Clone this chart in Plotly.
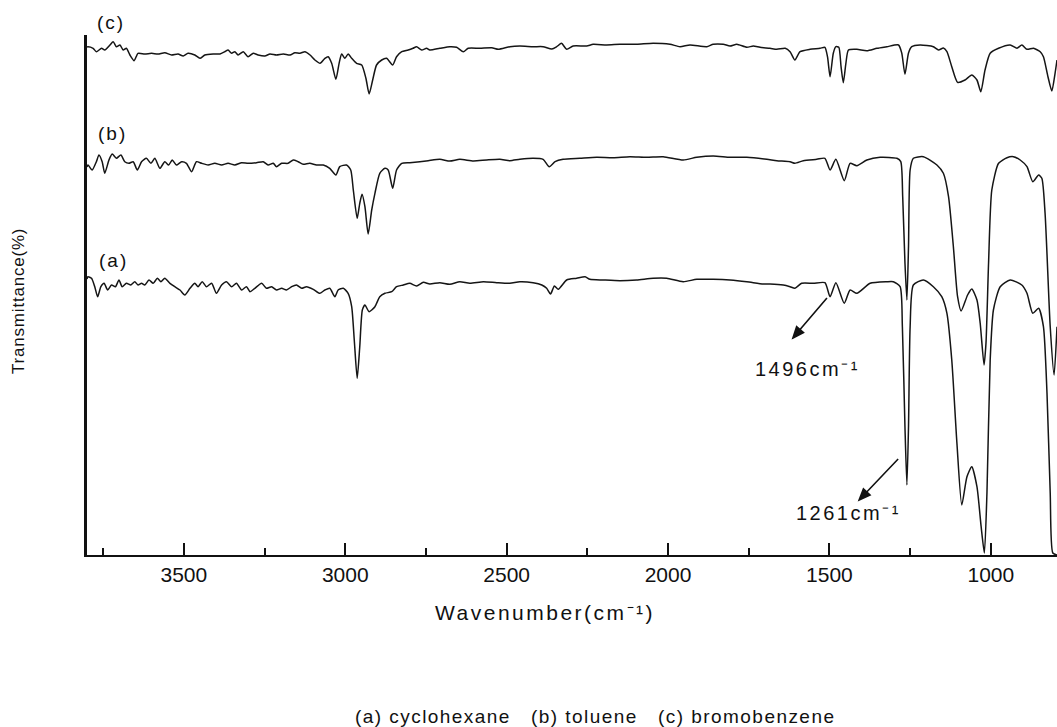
import plotly.graph_objects as go

# ---------------- data ----------------
wn_c = [3800,3797,3781,3771,3755,3745,3729,3719,3709,3698,3688,3678,3667,3654,3642,3621,3600,3580,3559,3538,
        3518,3502,3487,3466,3450,3435,3409,3388,3373,3363,3352,3342,3332,3316,3301,3285,3270,3249,3233,3213,
        3192,3171,3156,3140,3125,3109,3094,3078,3063,3053,3042,3029,3019,3011,3001,2991,2980,2965,2949,2936,
        2926,2915,2903,2887,2872,2853,2841,2825,2805,2790,2779,2763,2748,2738,2707,2676,2655,2634,2619,2583,
        2546,2526,2490,2459,2418,2387,2360,2345,2330,2314,2294,2252,2232,2190,2149,2097,2046,1994,1963,1932,
        1880,1860,1829,1808,1787,1756,1736,1715,1684,1663,1637,1622,1607,1591,1560,1529,1514,1506,1498,1488,
        1480,1471,1464,1457,1449,1441,1415,1384,1353,1322,1286,1276,1266,1255,1245,1219,1178,1162,1147,1136,
        1121,1103,1080,1059,1043,1031,1018,1002,976,940,919,904,888,868,847,837,823,811,801,795]
t_c = [508,508.3,506.7,503.3,506.7,505,510,513.3,508.3,510,505,506.7,500,494.3,501.7,501,501.7,501,502.3,500,
       501,499,501.7,500,496.7,500,501,501,503.3,505,501.7,503.3,500,503.3,498.3,501.7,500,499,501,500,
       501,500,502.3,501.7,503.3,500,495,491.7,496.7,498.3,491.7,475.7,491.7,501,496.7,501,496.7,491.7,490,476.7,
       461,475,490,495,496.7,490,498.3,503.3,505,506.7,508.3,505,506.7,505,506.7,508.3,507.7,503.3,506.7,506.7,
       507.3,505.7,508.3,509,508.3,508.3,506,508.3,511.7,505.7,509,509,510.7,510,510.7,510.7,511.7,510.7,508.3,510,
       508.3,510.7,510.7,509,510.7,507.7,509,507.7,506.7,505.7,506.7,503.3,495,503.3,505.7,506.7,507.7,498.3,478.3,501.7,
       508.3,507.7,488.3,472.3,491.7,505,505.7,504.3,506.7,508.3,510,502,480.7,502,508.3,510,508.3,505,507,503.3,
       488.3,472.7,475,480,475,463.3,485,501.7,506.7,510,506.7,510,505.7,506.7,503.3,498.3,478.3,464,481.7,495]

wn_b = [3800,3797,3784,3771,3763,3753,3745,3732,3722,3709,3695,3683,3670,3657,3644,3631,3616,3602,3590,3574,
        3559,3547,3536,3523,3507,3492,3476,3461,3445,3425,3404,3383,3363,3342,3321,3301,3275,3254,3239,3223,
        3213,3197,3177,3161,3146,3130,3110,3089,3068,3048,3029,3017,2996,2983,2975,2963,2955,2948,2939,2929,
        2918,2908,2893,2877,2867,2853,2841,2825,2800,2769,2743,2707,2676,2645,2603,2562,2521,2490,2459,2418,
        2387,2368,2350,2325,2273,2221,2170,2118,2066,2015,1953,1911,1860,1808,1756,1694,1663,1622,1607,1581,
        1539,1514,1498,1480,1454,1436,1415,1384,1343,1291,1279,1273,1266,1260,1255,1250,1240,1209,1167,1147,
        1131,1116,1103,1092,1072,1059,1043,1033,1021,1015,1007,997,976,950,930,909,888,870,852,842,
        832,816,804,795]
t_b = [388,390,385,393.3,400,393.3,381.7,395,401,396.7,400,393.3,391.7,393.3,385,393.3,396.7,391.7,396.7,386.7,
       393.3,390,395,390,393.3,391.7,383.3,393.3,391.7,390,391.7,390,391.7,390,392.3,391.7,392.3,393.3,390,391.7,
       388.3,391.7,391.7,395,393.3,390.7,391.7,390,390,386.7,380,388.3,390,385,365,336.7,351.7,360.7,348.3,321,
       345,361.7,381.7,386.7,385,366.7,385,391.7,392.3,393.3,394.3,395.7,394,395.7,394,395,395.7,394.3,395.7,396.7,
       395.7,388.3,393.3,395.7,396.7,397.7,397.3,398.3,397.7,398.3,395,397.7,399,397.7,397.7,395.7,394.3,393.3,391.7,394.3,
       395.7,396.7,385,395.7,374.3,391.7,389.3,395,397.7,396.7,393.3,358.3,292,255,308.3,385,396.7,398.3,390,381.7,
       358.3,308.3,258.3,244,260,266,255,232,190,212,292,365,391.7,397.3,398.3,395,388.3,373.3,380,376.7,
       342,228.3,180,228.3]

wn_a = [3800,3797,3786,3776,3767,3757,3747,3736,3724,3712,3701,3691,3678,3664,3652,3642,3631,3621,3608,3595,
        3582,3571,3559,3543,3528,3512,3497,3481,3466,3456,3443,3430,3414,3399,3383,3368,3352,3337,3321,3306,
        3295,3280,3259,3244,3228,3213,3197,3182,3166,3151,3135,3120,3099,3079,3063,3048,3032,3022,3006,2991,
        2980,2972,2963,2955,2947,2939,2926,2908,2893,2877,2856,2841,2820,2800,2779,2758,2738,2707,2676,2645,
        2614,2572,2531,2490,2459,2418,2391,2376,2364,2352,2340,2314,2283,2257,2242,2201,2149,2097,2046,2004,
        1953,1911,1860,1808,1756,1705,1684,1643,1622,1607,1586,1550,1514,1498,1480,1454,1436,1415,1374,1322,
        1302,1281,1274,1266,1260,1255,1250,1240,1209,1178,1152,1136,1121,1105,1090,1074,1059,1043,1030,1020,
        1012,1002,992,971,940,904,888,870,852,837,826,816,808,795]
t_a = [276,278.3,276.7,268.3,258.3,268.3,271.7,265,270,268.3,275,268.3,271.7,270,273.3,270,271.7,270,275,271.7,
       276.7,273.3,276.7,271.7,268.3,265,260,266.7,271.7,268.3,273.3,268.3,271.7,261.7,270,273.3,268.3,271.7,265,268.3,
       263.3,266.7,271.7,266.7,268.3,265,266.7,265,268.3,270,266.7,268.3,265.7,261.7,265,266.7,258.3,265,266.7,261.7,
       248.3,215,176.7,208.3,245,250,243.3,248.3,258.3,261.7,263.3,268.3,270,271.7,269,272.7,271,272.3,270.7,273.3,
       271.7,273.3,272.3,271.7,273.3,272.3,270,266.7,261,269,265.7,275,276.7,278.3,275.7,275,274.3,275,276.7,276.7,
       273.3,275.7,275.7,275,273.3,271,271,270,268.3,266.7,271.7,271.7,272.3,258.3,272.3,251.7,265,261.7,271.7,273.3,
       273.3,268.3,228.3,128.3,70,128.3,228.3,270,275,268.3,258.3,241.7,195,111.7,50,78.3,88.3,68.3,28.3,2,
       62,195,245,268.3,275,270,261.7,241.7,246.7,228.3,162,62,2,0]

tick_vals = [3500, 3000, 2500, 2000, 1500, 1000]
tick_labels = ["3500", "3000", "2500", "2000", "1500", "1000"]
series_labels = ["(a)", "(b)", "(c)"]
x_title = "Wavenumber(cm\u207b\u00b9)"
y_title = "Transmittance(%)"
caption = "(a) cyclohexane&nbsp;&nbsp;&nbsp;(b) toluene&nbsp;&nbsp;&nbsp;(c) bromobenzene"
peak_labels = ["1496cm\u207b\u00b9", "1261cm\u207b\u00b9"]
peak_wn = [1613, 1408]      # where the arrow heads point
peak_t = [217, 55]

FONT = "Liberation Sans, Arial, Helvetica, sans-serif"
INK = "#151515"


def spaced(s, px):
    return f'<span style="letter-spacing:{px}px">{s}</span>'


fig = go.Figure()
for wn, t, name in [(wn_a, t_a, "a"), (wn_b, t_b, "b"), (wn_c, t_c, "c")]:
    fig.add_trace(go.Scatter(x=wn, y=t, mode="lines", name=name,
                             line=dict(color=INK, width=1.5, shape="spline", smoothing=0.6),
                             showlegend=False, hoverinfo="skip"))

fig.update_layout(
    width=1057, height=727,
    margin=dict(l=87, r=0, t=35, b=172),
    paper_bgcolor="white", plot_bgcolor="white",
    font=dict(family=FONT, color="#111", size=20),
    showlegend=False,
)
fig.update_xaxes(
    range=[3800, 795], showline=True, linecolor="#111", linewidth=2,
    ticks="inside", ticklen=12, tickwidth=2, tickcolor="#111",
    tickvals=tick_vals, ticktext=tick_labels,
    tickfont=dict(size=21, family=FONT, color="#111"),
    minor=dict(ticks="inside", ticklen=7, tickwidth=2, tickcolor="#111", dtick=250, tick0=0, showgrid=False),
    showgrid=False, zeroline=False, mirror=False,
)
fig.update_yaxes(
    range=[0, 520], showline=True, linecolor="#111", linewidth=2.5,
    ticks="", showticklabels=False, showgrid=False, zeroline=False,
)

ann = []
ann.append(dict(text=spaced(x_title, 2.5), xref="paper", yref="paper", x=0.4722, y=-0.1115,
                xanchor="center", yanchor="middle", showarrow=False, font=dict(size=21)))
ann.append(dict(text=spaced(y_title, 0.8), xref="paper", yref="paper", x=-0.0701, y=0.4885,
                xanchor="center", yanchor="middle", textangle=-90, showarrow=False, font=dict(size=17)))
ann.append(dict(text=spaced(caption, 1.45), xref="paper", yref="paper", x=0.5237, y=-0.3115,
                xanchor="center", yanchor="middle", showarrow=False, font=dict(size=19)))
for lab, (px, py) in zip(series_labels, [(0.0278, 0.567), (0.0268, 0.8115), (0.0247, 1.025)]):
    ann.append(dict(text=spaced(lab, 2), x=px, y=py, xref="paper", yref="paper",
                    xanchor="center", yanchor="middle", showarrow=False, font=dict(size=19)))
for lab, (xw, yv) in zip(peak_labels, [(1568, 186), (1441, 42)]):
    ann.append(dict(text=spaced(lab, 2.5), x=xw, y=yv, xref="x", yref="y",
                    xanchor="center", yanchor="middle", showarrow=False, font=dict(size=20)))
fig.update_layout(annotations=ann)

# arrows: drawn as pixel-sized paths anchored at the arrow head
arrow_paths = [
    "M34,40 L7.1,8.4 M0,0 L10.5,5.5 L3.7,11.3 Z",
    "M39,41 L7.6,8.0 M0,0 L10.9,4.9 L4.3,11.1 Z",
]
for xw, yv, p in zip(peak_wn, peak_t, arrow_paths):
    fig.add_shape(type="path", xref="x", yref="y", xsizemode="pixel", ysizemode="pixel",
                  xanchor=xw, yanchor=yv, path=p,
                  line=dict(color="#111", width=1.6), fillcolor="#111")

fig.write_html("out.html")
